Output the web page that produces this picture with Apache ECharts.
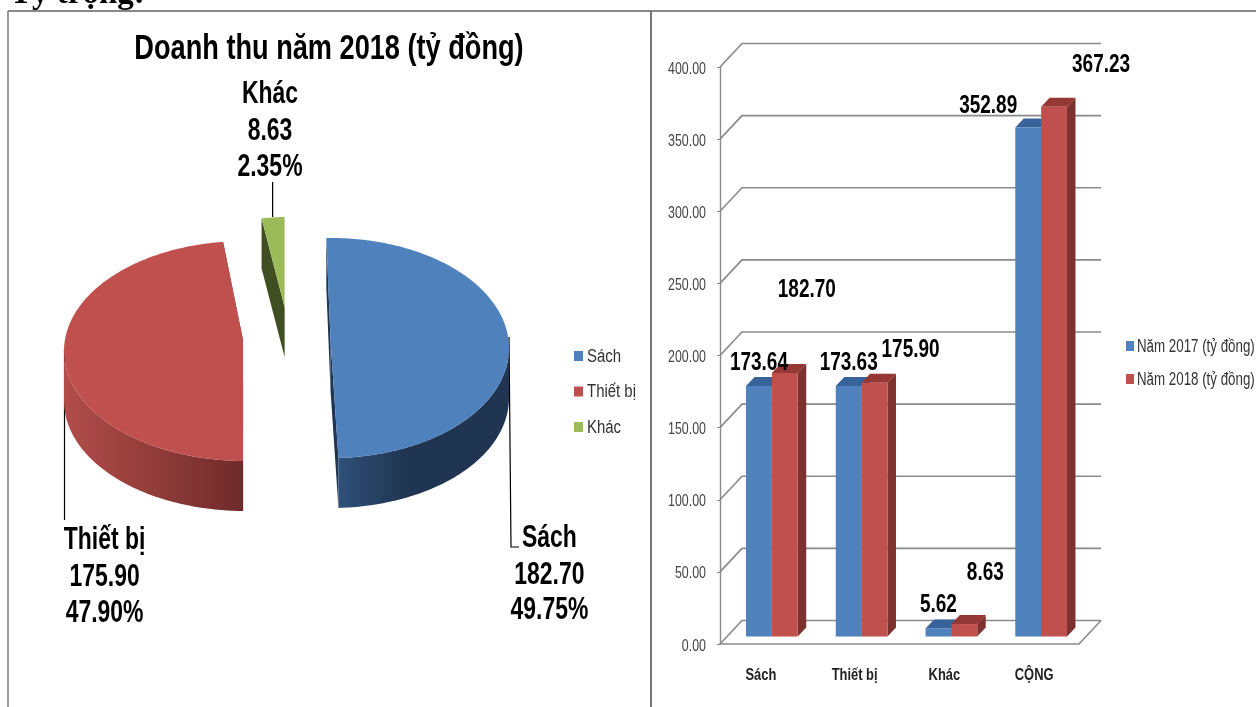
<!DOCTYPE html>
<html>
<head>
<meta charset="utf-8">
<script src="https://cdn.jsdelivr.net/npm/echarts@6/dist/echarts.min.js"></script>
<style>
html, body { margin: 0; padding: 0; background: #fff; }
#main { width: 1256px; height: 707px; }
</style>
</head>
<body>
<div id="main"></div>
<script>
// pie data
let pieNames = ['Sách', 'Thiết bị', 'Khác'];
let pieValues = [182.70, 175.90, 8.63];
let piePercents = ['49.75%', '47.90%', '2.35%'];

// bar data
let barCategories = ['Sách', 'Thiết bị', 'Khác', 'CỘNG'];
let barNames = ['Năm 2017 (tỷ đồng)', 'Năm 2018 (tỷ đồng)'];
let values2017 = [173.64, 173.63, 5.62, 352.89];
let values2018 = [182.70, 175.90, 8.63, 367.23];
let yTicks = [0, 50, 100, 150, 200, 250, 300, 350, 400];

// label offsets from the top of each bar, the source chart has them moved by hand
let offsets2017 = [[0, -25], [0, -25], [0, -25], [-40, -23]];
let offsets2018 = [[22, -85], [36, -34], [21, -53], [47, -43]];
let categoryLabelShift = [-4, 0, 0, 0];

// one ellipse per slice since the slices are pulled apart in perspective
let pieShapes = [
    {cx: 331, cy: 348, rx: 178, ry: 110, ax: 330.5, ay: 340, shift: 0},
    {cx: 245, cy: 351, rx: 181, ry: 110, ax: 243, ay: 340, shift: 3},
    {cx: 288.7, cy: 307, rx: 157, ry: 90, ax: 284.6, ay: 307, shift: 0}
];
let pieColors = ['#4f81bd', '#c0504d', '#9bbb59'];
let pieCutColors = ['#1f3552', '#7d3230', '#404f22'];
let pieSideFills = [
    {type: 'linear', x: 0, y: 0, x2: 1, y2: 0, colorStops: [
        {offset: 0, color: '#2f5078'}, {offset: 0.4, color: '#1f3552'}, {offset: 1, color: '#1f3552'}]},
    {type: 'linear', x: 0, y: 0, x2: 1, y2: 0, colorStops: [
        {offset: 0, color: '#b34d4a'}, {offset: 1, color: '#6f2b2a'}]},
    '#404f22'
];
let pieStart = -1.5;
let pieDepth = 50;

let fontName = '"Liberation Sans", Arial, sans-serif';
let depthX = 22, depthY = 23.5;
let barShiftX = 7, barShiftY = 7.5, barSideX = 8.5, barSideY = 9;

// the source picture is squeezed sideways, so text gets a horizontal scale
function squeezed(text, x, y, size, sx, weight, color, align) {
    return {
        type: 'text',
        x: x,
        y: y + size * 0.07,
        scaleX: sx,
        z: 50,
        style: {
            text: text,
            x: 0,
            y: 0,
            align: align || 'center',
            verticalAlign: 'middle',
            font: weight + ' ' + size + 'px ' + fontName,
            fill: color
        }
    };
}

function pieAngle(index) {
    let total = pieValues.reduce((a, b) => a + b, 0);
    let sum = 0;
    for (let i = 0; i < index; i++) {
        sum += pieValues[i];
    }
    return pieStart + sum / total * 360;
}

function arcPoint(s, deg, down) {
    let r = deg * Math.PI / 180;
    return [s.cx + s.rx * Math.sin(r), s.cy - s.ry * Math.cos(r) + (down || 0)];
}

function arcPoints(s, from, to, down) {
    let pts = [];
    for (let a = from; a < to; a += 1) {
        pts.push(arcPoint(s, a, down));
    }
    pts.push(arcPoint(s, to, down));
    return pts;
}

function renderSlice(i) {
    return function(params, api) {
        let s = pieShapes[i];
        let from = pieAngle(i) + s.shift;
        let to = from + api.value(0) / pieValues.reduce((a, b) => a + b, 0) * 360;
        let children = [];
        let p0 = arcPoint(s, from), p1 = arcPoint(s, to);
        // cut faces
        [p0, p1].forEach(p => {
            children.push({
                type: 'polygon',
                shape: {points: [[s.ax, s.ay], p, [p[0], p[1] + pieDepth], [s.ax, s.ay + pieDepth]]},
                style: {fill: pieCutColors[i]}
            });
        });
        // outer wall, only the part turned to the viewer
        let sideFrom = Math.max(from, 90), sideTo = Math.min(to, 270);
        if (sideFrom < sideTo) {
            let top = arcPoints(s, sideFrom, sideTo, 0);
            let bottom = arcPoints(s, sideFrom, sideTo, pieDepth).reverse();
            children.push({
                type: 'polygon',
                shape: {points: top.concat(bottom)},
                style: {fill: pieSideFills[i]}
            });
        }
        // top face
        children.push({
            type: 'polygon',
            shape: {points: [[s.ax, s.ay]].concat(arcPoints(s, from, to, 0))},
            style: {fill: api.visual('color')}
        });
        return {type: 'group', children: children};
    };
}

function renderWalls(params, api) {
    let box = params.coordSys;
    let v = api.value(0);
    let y = api.coord([0, v])[1];
    let lines = [{
        type: 'polyline',
        shape: {points: [[box.x, y], [box.x + depthX, y - depthY], [box.x + box.width + depthX, y - depthY]]},
        style: {fill: null, stroke: '#8a8a8a', lineWidth: 1.6}
    }, squeezed(v.toFixed(2), box.x - 14, y + 1, 16, 0.775, 'normal', '#444', 'right')];
    if (v === 0) {
        lines.push({
            type: 'line',
            shape: {x1: box.x + box.width, y1: y, x2: box.x + box.width + depthX, y2: y - depthY},
            style: {stroke: '#8a8a8a', lineWidth: 1.6}
        });
    }
    return {type: 'group', children: lines};
}

function renderCategoryLabel(params, api) {
    let idx = api.value(0);
    let p = api.coord([idx, 0]);
    return squeezed(barCategories[idx], p[0] + categoryLabelShift[idx], p[1] + 30, 17, 0.76, 'bold', '#222');
}

function renderBar(side, faceTop, faceSide) {
    return function(params, api) {
        let idx = api.value(0);
        let top = api.coord([idx, api.value(1)]);
        let base = api.coord([idx, 0]);
        let w = api.size([1, 0])[0] * 0.288;
        let x0 = top[0] + barShiftX + (side === 0 ? -w : 0);
        let x1 = x0 + w;
        let y0 = top[1] - barShiftY;
        let y1 = base[1] - barShiftY;
        return {
            type: 'group',
            children: [{
                type: 'polygon',
                shape: {points: [[x1, y0], [x1 + barSideX, y0 - barSideY], [x1 + barSideX, y1 - barSideY], [x1, y1]]},
                style: {fill: faceSide}
            }, {
                type: 'polygon',
                shape: {points: [[x0, y0], [x0 + barSideX, y0 - barSideY], [x1 + barSideX, y0 - barSideY], [x1, y0]]},
                style: {fill: faceTop}
            }, {
                type: 'rect',
                shape: {x: x0, y: y0, width: x1 - x0, height: y1 - y0},
                style: {fill: api.visual('color')}
            }]
        };
    };
}

// value labels go last so no bar covers them
function renderBarLabels(side, offsets) {
    return function(params, api) {
        let idx = api.value(0);
        let top = api.coord([idx, api.value(1)]);
        let w = api.size([1, 0])[0] * 0.288;
        let off = offsets[idx];
        let cx = top[0] + barShiftX + (side === 0 ? -w / 2 : w / 2);
        return squeezed(api.value(1).toFixed(2), cx + off[0], top[1] - barShiftY + off[1], 25, 0.76, 'bold', '#000');
    };
}

function pieLabel(i, x, ys) {
    return [pieNames[i], pieValues[i].toFixed(2), piePercents[i]].map((line, n) =>
        squeezed(line, x, ys[n], 31, 0.74, 'bold', '#000'));
}

function frameLine(x1, y1, x2, y2, color) {
    return {
        type: 'line',
        shape: {x1: x1, y1: y1, x2: x2, y2: y2},
        style: {stroke: color, lineWidth: 2}
    };
}

function leader(points) {
    return {
        type: 'polyline',
        shape: {points: points},
        style: {fill: null, stroke: '#000', lineWidth: 1.2}
    };
}

let pieSeries = pieNames.map((name, i) => ({
    name: name,
    type: 'custom',
    coordinateSystem: 'none',
    itemStyle: {color: pieColors[i]},
    data: [[pieValues[i]]],
    renderItem: renderSlice(i)
}));

function toRows(values) {
    return values.map((v, i) => [i, v]);
}

let heading = squeezed('Doanh thu năm 2018 (tỷ đồng)', 329, 47, 35, 0.776, 'bold', '#000');
let pageText = {
    type: 'text',
    x: 10,
    y: 11,
    style: {
        text: 'Tỷ trọng:',
        align: 'left',
        verticalAlign: 'bottom',
        font: 'bold 33px "Liberation Serif", serif',
        fill: '#000'
    }
};
let legendTexts = [
    squeezed(pieNames[0], 587, 356, 18, 0.83, 'normal', '#333', 'left'),
    squeezed(pieNames[1], 587, 391, 18, 0.83, 'normal', '#333', 'left'),
    squeezed(pieNames[2], 587, 427, 18, 0.83, 'normal', '#333', 'left'),
    squeezed(barNames[0], 1137, 346, 18, 0.74, 'normal', '#333', 'left'),
    squeezed(barNames[1], 1137, 379, 18, 0.74, 'normal', '#333', 'left')
];

let option = {
    animation: false,
    backgroundColor: '#fff',
    legend: [{
        data: pieNames,
        orient: 'vertical',
        left: 574,
        top: 351,
        padding: 0,
        itemWidth: 9,
        itemHeight: 10,
        itemGap: 25.5,
        icon: 'rect',
        selectedMode: false,
        formatter: () => ''
    }, {
        data: barNames,
        orient: 'vertical',
        left: 1126,
        top: 341,
        padding: 0,
        itemWidth: 8,
        itemHeight: 10,
        itemGap: 23,
        icon: 'rect',
        selectedMode: false,
        formatter: () => ''
    }],
    grid: {left: 720, top: 67, width: 359, height: 577},
    xAxis: {
        type: 'category',
        data: barCategories,
        axisLine: {lineStyle: {color: '#8a8a8a', width: 1.6}},
        axisTick: {length: 6, lineStyle: {color: '#8a8a8a', width: 1.4}},
        axisLabel: {show: false}
    },
    yAxis: {
        type: 'value',
        min: 0,
        max: 400,
        interval: 50,
        axisLine: {show: true, lineStyle: {color: '#8a8a8a', width: 1.4}},
        axisTick: {show: true, length: 3, lineStyle: {color: '#8a8a8a'}},
        splitLine: {show: false},
        axisLabel: {show: false}
    },
    graphic: [
        frameLine(8, 11, 1256, 11, '#888'),
        frameLine(8, 11, 8, 707, '#999'),
        frameLine(651, 11, 651, 707, '#777'),
        leader([[272.6, 182], [272.6, 217]]),
        leader([[509, 337], [511, 547], [519, 547]]),
        leader([[64.5, 349], [64.5, 520]]),
        heading,
        pageText
    ].concat(legendTexts)
        .concat(pieLabel(2, 270, [92, 129, 165]))
        .concat(pieLabel(0, 549.4, [536, 573, 608]))
        .concat(pieLabel(1, 104.6, [538, 575, 611])),
    series: pieSeries.concat([{
        type: 'custom',
        coordinateSystem: 'cartesian2d',
        data: yTicks.map(v => [v]),
        encode: {y: 0},
        renderItem: renderWalls,
        silent: true
    }, {
        type: 'custom',
        coordinateSystem: 'cartesian2d',
        data: barCategories.map((c, i) => [i]),
        encode: {x: 0},
        renderItem: renderCategoryLabel,
        silent: true
    }, {
        name: barNames[0],
        type: 'custom',
        coordinateSystem: 'cartesian2d',
        itemStyle: {color: '#4f81bd'},
        data: toRows(values2017),
        encode: {x: 0, y: 1},
        renderItem: renderBar(0, '#38639a', '#2f4f78')
    }, {
        name: barNames[1],
        type: 'custom',
        coordinateSystem: 'cartesian2d',
        itemStyle: {color: '#c0504d'},
        data: toRows(values2018),
        encode: {x: 0, y: 1},
        renderItem: renderBar(1, '#953735', '#7d3230')
    }, {
        type: 'custom',
        coordinateSystem: 'cartesian2d',
        data: toRows(values2017),
        encode: {x: 0, y: 1},
        renderItem: renderBarLabels(0, offsets2017)
    }, {
        type: 'custom',
        coordinateSystem: 'cartesian2d',
        data: toRows(values2018),
        encode: {x: 0, y: 1},
        renderItem: renderBarLabels(1, offsets2018)
    }])
};

let mychart = echarts.init(document.getElementById('main'));
mychart.setOption(option);
</script>
</body>
</html>
